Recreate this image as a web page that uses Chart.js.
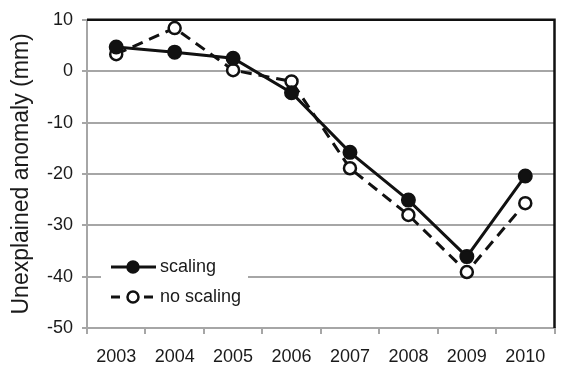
<!DOCTYPE html>
<html>
<head>
<meta charset="utf-8">
<script src="https://cdn.jsdelivr.net/npm/chart.js@4/dist/chart.umd.min.js"></script>
<style>
  html, body { margin: 0; padding: 0; background: #fff; }
  #wrap { width: 563px; height: 368px; }
</style>
</head>
<body>
<div id="wrap"><canvas id="chart" width="563" height="368"></canvas></div>
<script>
const years = ['2003', '2004', '2005', '2006', '2007', '2008', '2009', '2010']
const scaling = [4.7, 3.7, 2.5, -4.2, -15.8, -25.1, -36.1, -20.4]
const noScaling = [3.3, 8.4, 0.2, -2.0, -18.9, -28.0, -39.1, -25.7]
const yTicks = [10, 0, -10, -20, -30, -40, -50]

const GRID = '#a6a6a6'
const FONT = '"Liberation Sans", Arial, sans-serif'

// black frame on top and right, legend box inside the plot
const frameAndLegend = {
  id: 'frameAndLegend',
  afterDraw(chart) {
    const { ctx, chartArea: a } = chart
    ctx.save()
    ctx.strokeStyle = '#111'
    ctx.lineWidth = 2.5
    ctx.beginPath()
    ctx.moveTo(a.left, a.top)
    ctx.lineTo(a.right, a.top)
    ctx.lineTo(a.right, a.bottom)
    ctx.stroke()

    // legend
    const bx = 101, by = 253
    ctx.fillStyle = '#fff'
    ctx.fillRect(bx, by, 147, 56)
    ctx.font = '18px ' + FONT
    ctx.textBaseline = 'middle'
    chart.data.datasets.forEach((ds, i) => {
      const y = by + 14 + i * 30
      ctx.strokeStyle = '#111'
      ctx.lineWidth = 3
      ctx.setLineDash(ds.borderDash ? [9, 7.5] : [])
      ctx.beginPath()
      ctx.moveTo(bx + 10, y)
      ctx.lineTo(bx + 55, y)
      ctx.stroke()
      ctx.setLineDash([])
      ctx.beginPath()
      ctx.arc(bx + 32, y, 5.5, 0, Math.PI * 2)
      ctx.fillStyle = ds.pointBackgroundColor
      ctx.fill()
      ctx.lineWidth = 2.5
      ctx.stroke()
      ctx.fillStyle = '#1a1a1a'
      ctx.fillText(ds.label, bx + 59, y)
    })
    ctx.restore()
  }
}

new Chart(document.getElementById('chart'), {
  type: 'line',
  data: {
    labels: years,
    datasets: [
      {
        label: 'scaling',
        data: scaling,
        borderColor: '#111',
        borderWidth: 3,
        pointRadius: 6.5,
        pointBorderWidth: 2,
        pointBackgroundColor: '#111',
        pointBorderColor: '#111',
        tension: 0
      },
      {
        label: 'no scaling',
        data: noScaling,
        borderColor: '#111',
        borderWidth: 3,
        borderDash: [11, 7],
        pointRadius: 6,
        pointBorderWidth: 2.5,
        pointBackgroundColor: '#fff',
        pointBorderColor: '#111',
        tension: 0
      }
    ]
  },
  options: {
    responsive: false,
    animation: false,
    layout: { padding: { top: 17, right: 2, left: 0, bottom: 0 } },
    plugins: {
      legend: { display: false },
      tooltip: { enabled: false }
    },
    scales: {
      x: {
        offset: true,
        grid: {
          offset: true,
          drawOnChartArea: false,
          drawTicks: true,
          tickLength: 6,
          color: GRID,
          lineWidth: 2
        },
        border: { color: GRID, width: 2 },
        ticks: {
          color: '#1a1a1a',
          font: { family: FONT, size: 18 },
          padding: 12,
          maxRotation: 0
        },
        afterFit(scale) { scale.height = 40 }
      },
      y: {
        min: -50,
        max: 10,
        afterBuildTicks(scale) { scale.ticks = yTicks.map(v => ({ value: v })) },
        grid: {
          color: GRID,
          lineWidth: 2,
          drawTicks: true,
          tickLength: 5
        },
        border: { color: GRID, width: 2 },
        ticks: {
          color: '#1a1a1a',
          font: { family: FONT, size: 18 },
          padding: 9
        },
        title: {
          display: true,
          text: 'Unexplained anomaly (mm)',
          color: '#1a1a1a',
          font: { family: FONT, size: 23 },
          padding: { top: 8, bottom: 0 }
        },
        afterFit(scale) { scale.width = 87 }
      }
    }
  },
  plugins: [frameAndLegend]
})
</script>
</body>
</html>
